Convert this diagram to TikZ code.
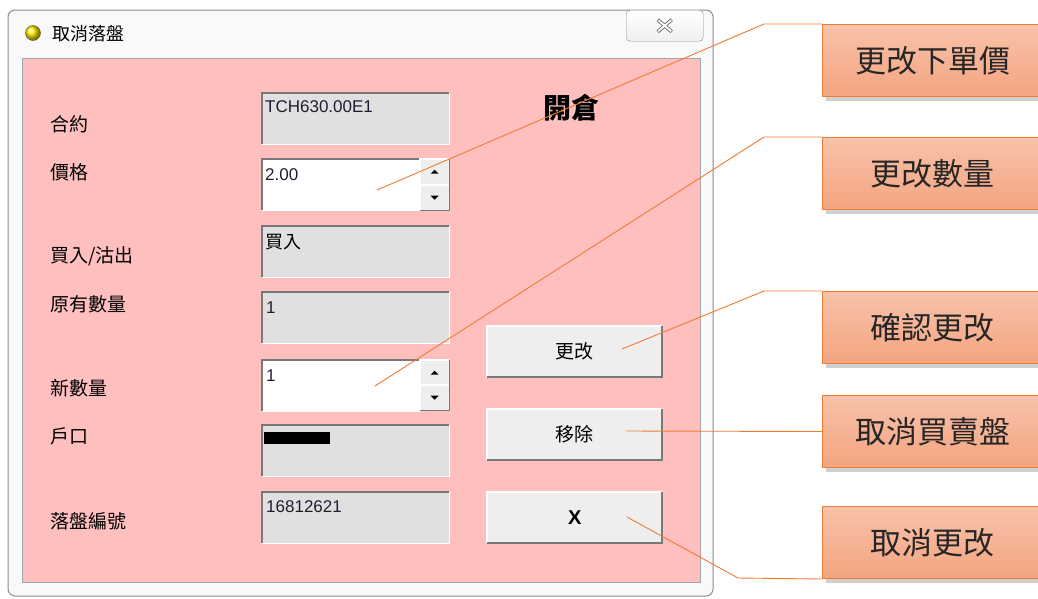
\documentclass[tikz,border=0pt]{standalone}
\usepackage{fontspec}
\setmainfont{Liberation Sans}
\newfontfamily\cjk{Noto Sans CJK TC}
\usetikzlibrary{shadows}
\definecolor{pinkbg}{RGB}{255,191,191}
\definecolor{fieldgray}{RGB}{224,224,224}
\definecolor{btngray}{RGB}{238,238,238}
\definecolor{edgedark}{RGB}{120,120,120}
\definecolor{callline}{RGB}{237,125,49}
\definecolor{calltop}{RGB}{248,194,170}
\definecolor{callbot}{RGB}{244,164,128}
\definecolor{framegray}{RGB}{140,140,140}
\definecolor{framewhite}{RGB}{248,249,251}
\definecolor{txtdark}{RGB}{30,30,50}
\begin{document}
\begin{tikzpicture}[x=1pt,y=-1pt,
  lbl/.style={anchor=west, inner sep=0pt, text=black, font=\cjk\fontsize{19}{19}\selectfont},
  field/.style={anchor=north west, inner sep=0pt, fill=fieldgray, minimum width=187pt, minimum height=51pt},
  spinfield/.style={anchor=north west, inner sep=0pt, fill=white, minimum width=158pt, minimum height=51pt},
  spinbtn/.style={anchor=north west, inner sep=0pt, fill=btngray, minimum width=29pt, minimum height=25pt},
  ftxt/.style={anchor=north west, inner sep=0pt, text=txtdark, font=\fontsize{17}{17}\selectfont},
  fcjk/.style={anchor=north west, inner sep=0pt, text=black, font=\cjk\fontsize{18}{18}\selectfont},
  btn/.style={anchor=north west, inner sep=0pt, fill=btngray, minimum width=175pt, minimum height=51pt, text=black, font=\cjk\fontsize{19}{19}\selectfont},
  callbox/.style={anchor=north west, draw=callline, line width=1pt, top color=calltop, bottom color=callbot,
     minimum width=220pt, minimum height=72pt, inner sep=0pt, text=black!85, font=\cjk\fontsize{31}{31}\selectfont,
     drop shadow={shadow xshift=3pt, shadow yshift=-4pt, opacity=0.3, fill=black!60}},
  conn/.style={draw=callline, line width=0.9pt}
]
\useasboundingbox (0,0) rectangle (1038,598);
\fill[white] (0,0) rectangle (1038,598);
% window frame
\draw[framegray, fill=framewhite, rounded corners=7pt, line width=1pt] (8,10) rectangle (713,596);
\draw[black!35, line width=0.8pt] (22,58) rectangle (700,582);
\fill[pinkbg] (22.5,58.5) rectangle (699.5,581.5);
% title bar
\node[circle, inner sep=0pt, minimum size=15pt, ball color=yellow!85!orange, draw=brown!70!black, line width=0.5pt] (icon) at (33,33) {};
\node[anchor=west, inner sep=0pt, text=black, font=\cjk\fontsize{18}{18}\selectfont] (title) at (52,34) {取消落盤};
\node[anchor=north west, draw=framegray, rounded corners=4pt, top color=white, bottom color=black!6, minimum width=77pt, minimum height=31pt, inner sep=0pt] (close) at (626,10) {};
\draw[black!55, line width=3.6pt] ([shift={(-7pt,-6pt)}]close.center) -- ([shift={(7pt,6pt)}]close.center);
\draw[black!55, line width=3.6pt] ([shift={(-7pt,6pt)}]close.center) -- ([shift={(7pt,-6pt)}]close.center);
\draw[white, line width=1.8pt] ([shift={(-6.5pt,-5.5pt)}]close.center) -- ([shift={(6.5pt,5.5pt)}]close.center);
\draw[white, line width=1.8pt] ([shift={(-6.5pt,5.5pt)}]close.center) -- ([shift={(6.5pt,-5.5pt)}]close.center);
% labels
\node[lbl] (l1) at (50,124) {合約};
\node[lbl] (l2) at (50,172) {價格};
\node[lbl] (l3) at (50,256) {買入/沽出};
\node[lbl] (l4) at (50,304) {原有數量};
\node[lbl] (l5) at (50,388) {新數量};
\node[lbl] (l6) at (50,436) {戶口};
\node[lbl] (l7) at (50,521) {落盤編號};
% fields
\node[field] (f1) at (262,93) {};
\node[spinfield] (f2) at (262,159) {};
\node[field] (f3) at (262,226) {};
\node[field] (f4) at (262,292) {};
\node[spinfield] (f5) at (262,360) {};
\node[field] (f6) at (262,425) {};
\node[field] (f7) at (262,492) {};
\foreach \n in {f1,f2,f3,f4,f5,f6,f7} {
  \draw[white, line width=1.5pt] (\n.south west) -| (\n.north east);
  \draw[edgedark, line width=2pt] (\n.south west) |- (\n.north east);
}
% spin buttons
\node[spinbtn] (s2u) at (420,159) {};
\node[spinbtn] (s2d) at (420,185) {};
\node[spinbtn] (s5u) at (420,360) {};
\node[spinbtn] (s5d) at (420,385) {};
\foreach \n in {s2u,s2d,s5u,s5d} {
  \draw[white, line width=1.2pt] (\n.south west) |- (\n.north east);
  \draw[edgedark, line width=1.6pt] (\n.south west) -| (\n.north east);
}
\foreach \n in {s2u,s5u} { \fill[black] (\n.center) ++(-4,2) -- ++(8,0) -- ++(-4,-4) -- cycle; }
\foreach \n in {s2d,s5d} { \fill[black] (\n.center) ++(-4,-2) -- ++(8,0) -- ++(-4,4) -- cycle; }
% field texts
\node[ftxt] (t1) at ([shift={(3pt,-7pt)}]f1.north west) {TCH630.00E1};
\node[ftxt] (t2) at ([shift={(3pt,-9pt)}]f2.north west) {2.00};
\node[fcjk] (t3) at ([shift={(3pt,-8pt)}]f3.north west) {買入};
\node[ftxt] (t4) at ([shift={(4pt,-10pt)}]f4.north west) {1};
\node[ftxt] (t5) at ([shift={(4pt,-10pt)}]f5.north west) {1};
\fill[black] (264,432) rectangle (330,444);
\node[ftxt] (t7) at ([shift={(4pt,-8pt)}]f7.north west) {16812621};
% header
\node[inner sep=0pt, text=black, font=\cjk\bfseries\fontsize{28}{28}\selectfont] (hdr) at (571,108) {開倉};
% buttons
\node[btn] (b1) at (487,326) {更改};
\node[btn] (b2) at (487,409) {移除};
\node[btn, font=\bfseries\fontsize{20}{20}\selectfont] (b3) at (487,492) {X};
\foreach \n in {b1,b2,b3} {
  \draw[white, line width=1.5pt] (\n.south west) |- (\n.north east);
  \draw[edgedark, line width=2pt] (\n.south west) -| (\n.north east);
}
% callouts
\node[callbox] (c1) at (822,24) {更改下單價};
\node[callbox] (c2) at (822,137) {更改數量};
\node[callbox] (c3) at (822,291) {確認更改};
\node[callbox] (c4) at (822,395) {取消買賣盤};
\node[callbox] (c5) at (822,506) {取消更改};
% connectors
\coordinate (p1) at (377,190);
\coordinate (p2) at (375,386);
\coordinate (p3) at (622,349);
\coordinate (p4) at (626,431);
\coordinate (p5) at (627,517);
\coordinate (k1) at (764,24);
\coordinate (k2) at (764,137);
\coordinate (k3) at (764,291);
\coordinate (k5) at (738,578);
\draw[conn] (p1) -- (k1) -- (c1.north west);
\draw[conn] (p2) -- (k2) -- (c2.north west);
\draw[conn] (p3) -- (k3) -- (c3.north west);
\draw[conn] (p4) -- (c4.west);
\draw[conn] (p5) -- (k5) -- (c5.south west);
\end{tikzpicture}
\end{document}
